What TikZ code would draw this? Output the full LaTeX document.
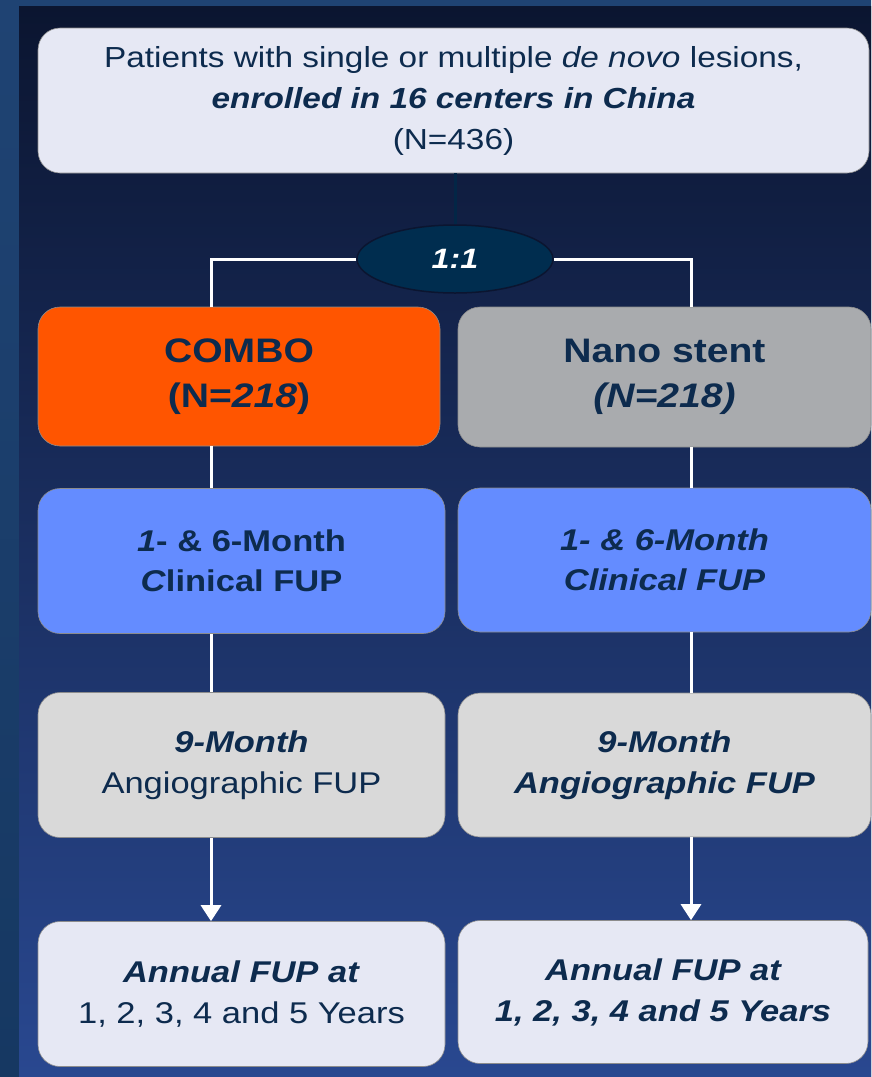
\documentclass[tikz,border=0pt]{standalone}
\usepackage{fontspec}
\setmainfont[FakeStretch=1.15]{Liberation Sans}
\usetikzlibrary{arrows.meta}
\usetikzlibrary{positioning}
\usetikzlibrary{shapes.geometric}

\definecolor{navytext}{HTML}{0D2B4E}
\definecolor{framebl}{HTML}{1F4373}
\definecolor{framedk}{HTML}{163862}
\definecolor{bgtop}{HTML}{0B1530}
\definecolor{bgbot}{HTML}{294890}
\definecolor{palebox}{HTML}{E6E8F4}
\definecolor{combo}{HTML}{FF5500}
\definecolor{nanogray}{HTML}{A9ABAE}
\definecolor{fupblue}{HTML}{648CFF}
\definecolor{angiogray}{HTML}{D9D9D9}
\definecolor{splitfill}{HTML}{002D4F}

\begin{document}
\begin{tikzpicture}
[x=1pt,y=-1pt,>={Triangle[width=20pt,length=16pt]},
every node/.style={rectangle,rounded corners=22pt,draw=black!45,line width=0.6pt,
  text=navytext,align=center,inner sep=0pt},
wire/.style={draw=white,line width=3pt},
lbox/.style={minimum width=407pt,minimum height=145pt},
rbox/.style={minimum width=413pt,minimum height=144pt},
txt/.style={font=\fontsize{30}{41}\selectfont}]

% background
\fill[top color=framebl,bottom color=framedk] (0,0) rectangle (871,1077);
\fill[top color=bgtop,bottom color=bgbot] (19,6) rectangle (871,1077);
\useasboundingbox (0,0) rectangle (871,1077);

\coordinate (colL) at (211,0);
\coordinate (colR) at (691,0);

\node[fill=palebox,minimum width=831pt,minimum height=145pt,
  font=\fontsize{29}{41}\selectfont] (pat) at (453.5,100.5)
  {Patients with single or multiple \textit{de novo} lesions,\\
   \textbf{\textit{enrolled in 16 centers in China}}\\
   (N=436)};

\node[ellipse,fill=splitfill,draw=bgtop,line width=1.5pt,rounded corners=0pt,
  minimum width=196pt,minimum height=68pt,text=white,
  font=\fontsize{28}{34}\selectfont\bfseries\itshape] (split) at (455,259) {1:1};

\node[lbox,fill=combo,minimum width=402pt,minimum height=139pt,
  font=\fontsize{34}{45}\selectfont\bfseries] (cmb) at (239,376.5)
  {COMBO\\(N=\textit{218})};
\node[rbox,fill=nanogray,minimum height=140pt,
  font=\fontsize{34}{45}\selectfont\bfseries] (nano) at (664.5,377)
  {Nano stent\\\textit{(N=218)}};

\node[lbox,fill=fupblue,txt,font=\fontsize{30}{40}\selectfont\bfseries] (clinL) at (241.5,561)
  {\textit{1}- \& 6-Month\\\textit{C}linical FUP};
\node[rbox,fill=fupblue,txt,font=\fontsize{30}{40}\selectfont\bfseries\itshape] (clinR) at (664.5,560)
  {1- \& 6-Month\\Clinical FUP};

\node[lbox,fill=angiogray,txt] (angL) at (241.5,765)
  {\textbf{\textit{9-Month}}\\Angiographic FUP};
\node[rbox,fill=angiogray,txt,font=\fontsize{30}{41}\selectfont\bfseries\itshape] (angR) at (664.5,765)
  {9-Month\\Angiographic FUP};

\node[lbox,fill=palebox,txt] (annL) at (241.5,994)
  {\textbf{\textit{Annual FUP at}}\\1, 2, 3, 4 and 5 Years};
\node[rbox,fill=palebox,minimum width=410pt,minimum height=143pt,txt,
  font=\fontsize{30}{41}\selectfont\bfseries\itshape] (annR) at (663,992)
  {Annual FUP at\\1, 2, 3, 4 and 5 Years};

% randomisation
\draw[draw=splitfill!70!bgtop,line width=3pt] (split.north) -- (split.north |- pat.south);
\draw[wire] (split.west) -| (cmb.north -| colL);
\draw[wire] (split.east) -| (nano.north -| colR);

% left arm
\draw[wire] (cmb.south -| colL) -- (clinL.north -| colL);
\draw[wire] (clinL.south -| colL) -- (angL.north -| colL);
\draw[wire,->,white] (angL.south -| colL) -- (annL.north -| colL);

% right arm
\draw[wire] (nano.south -| colR) -- (clinR.north -| colR);
\draw[wire] (clinR.south -| colR) -- (angR.north -| colR);
\draw[wire,->,white] (angR.south -| colR) -- (annR.north -| colR);

\end{tikzpicture}
\end{document}
